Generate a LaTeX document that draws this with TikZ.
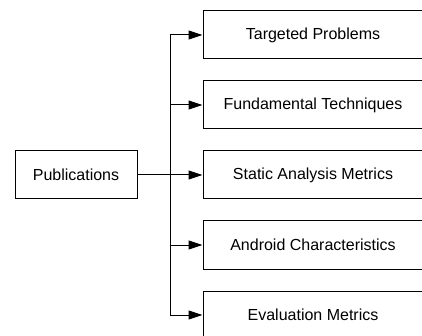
\documentclass[tikz,border=0pt]{standalone}
\usepackage{fontspec}
\setmainfont{Liberation Sans}
\usetikzlibrary{positioning,arrows.meta}

\begin{document}
\begin{tikzpicture}[x=1pt, y=1pt,
		box/.style={draw, line width=1pt, minimum height=48pt, font=\fontsize{16}{19}\selectfont},
		cat/.style={box, minimum width=220pt},
		link/.style={-{Triangle[length=14pt, width=9pt]}, line width=1pt}]
		\useasboundingbox (0, 0) rectangle (422, -336);
		\node[box, minimum width=122pt] (pub) at (76, -175) {Publications};
		\node[cat] (prob) at (313, -35) {Targeted Problems};
		\node[cat] (tech) at (313, -105) {Fundamental Techniques};
		\node[cat] (metr) at (313, -175) {Static Analysis Metrics};
		\node[cat] (andr) at (313, -245) {Android Characteristics};
		\node[cat] (eval) at (313, -315) {Evaluation Metrics};
		\draw[link] (pub.east) -- ++(33, 0) |- (prob.west);
		\draw[link] (pub.east) -- ++(33, 0) |- (tech.west);
		\draw[link] (pub.east) -- (metr.west);
		\draw[link] (pub.east) -- ++(33, 0) |- (andr.west);
		\draw[link] (pub.east) -- ++(33, 0) |- (eval.west);
	\end{tikzpicture}
\end{document}
